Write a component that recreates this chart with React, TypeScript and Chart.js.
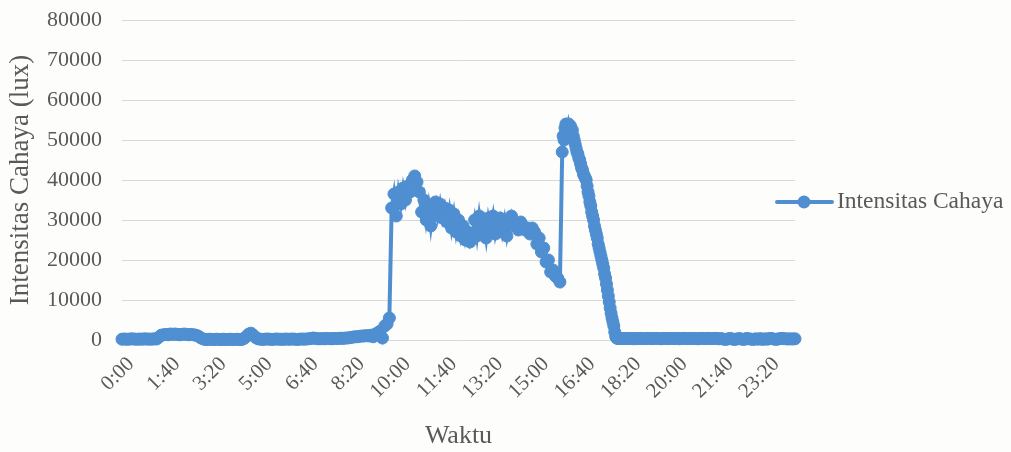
import React, { useEffect, useRef } from "react";
import { Chart, registerables } from "chart.js";

Chart.register(...registerables);

// ---- DATA ----
// each block: readings starting at `start` minutes after 0:00, taken every `step` minutes
const dinihari = [
  200, 250, 200, 200, 300, 250, 200, 200, 250, 200, 300, 200, 250, 200, 300, 250,
  700,
  1200, 1300, 1400, 1300, 1500, 1400, 1500, 1400, 1300, 1400, 1500, 1400, 1300, 1400, 1300, 1200, 1000,
  600, 300, 150,
  100, 200, 150, 100, 200, 150, 100, 200, 100, 150, 200, 100, 150, 200, 100, 150,
  400, 900, 1500, 1700, 1200, 600, 300,
]; // 0:00 – 4:55, every 5 min
const pagi = [
  200, 150, 200, 250, 200, 150, 200, 250, 200, 200, 150, 250, 200, 200, 250, 200, 150, 200, 250, 200, 250,
  300, 400, 500, 400, 300,
  300, 350, 300, 400, 350, 300, 400, 350, 400, 450, 400,
  500, 500, 600, 700, 800, 800, 900, 1000, 1000, 1100,
  1000, 1200, 800, 1500, 1800, 2200, 500, 3500, 4000, 5500,
]; // 5:00 – 9:40, every 5 min
const siang = [
  33000, 36500, 31000, 37000, 34000, 38000, 35000, 38500, 37000, 40000, 41000, 39500, 37000,
  32000, 35000, 30000, 33500, 28500, 33000, 34500, 31000, 34000, 30500, 33000, 29500,
  32500, 28000, 31500, 27000, 30000, 26000, 28500, 25000, 27000, 24500, 26500,
  30000, 26000, 31000, 27000, 29500, 25500, 30500, 28000, 31000, 26500, 29000, 30500,
  27000, 30000, 26000, 29000, 31000, 28500, 29000, 27500, 29500, 28500, 27500, 28000,
  26500, 28000, 27000, 24000, 25500, 22000, 23000, 19500, 20000, 17000, 17500, 16000, 15500, 14500,
]; // 9:45 – 15:50, every 5 min
const sore = [
  47000, 51000, 50000, 53000, 54000, 53500, 52500, 54000, 53000, 53500, 52000, 52500,
  51000, 50000, 49000, 48000, 47000, 46500, 45500, 45000, 44000, 43000, 42500, 41500,
  41000, 40500, 40000, 38500, 37000, 36000, 34500, 33500, 32000, 31000, 30000, 28500,
  27500, 26500, 25500, 24000, 23000, 22000, 21000, 20000, 19000, 18000, 16500, 15500,
  14000, 12500, 11000, 9500, 8000, 6700, 5500, 4500, 3500, 2000, 900, 500, 400, 400,
]; // 15:55 – 17:57, every 2 min
const malam = [
  400, 350, 400, 400, 350, 400, 300, 400, 350, 400, 400, 350, 400, 400, 350,
  400, 400, 350, 300, 400, 400, 350, 400, 400, 350, 400, 300, 400, 400, 350,
  400, 350, 400, 400, 300, 400, 400, 350, 400, 400, 350, 400, 400, 300, 350,
  200, 150, 300, 400, 200, 150, 300, 350, 200, 150, 400, 300, 200, 150, 300,
  200, 350, 150, 300, 200, 400, 350, 200, 150, 300, 400, 350, 300, 250, 300,
  250, 300,
]; // 18:00 – 0:20, every 5 min

const blocks = [
  { start: 0, step: 5, values: dinihari },
  { start: 300, step: 5, values: pagi },
  { start: 585, step: 5, values: siang },
  { start: 955, step: 2, values: sore },
  { start: 1080, step: 5, values: malam },
];
const points = blocks.flatMap((b) =>
  b.values.map((v, i) => ({ x: b.start + i * b.step, y: v }))
);
const lastMinute = points[points.length - 1].x;

const tickLabels = [
  "0:00", "1:40", "3:20", "5:00", "6:40", "8:20", "10:00", "11:40",
  "13:20", "15:00", "16:40", "18:20", "20:00", "21:40", "23:20",
];
const tickStep = 100; // minutes between labelled ticks
const yTicks = [0, 10000, 20000, 30000, 40000, 50000, 60000, 70000, 80000];

const seriesName = "Intensitas Cahaya";
const BLUE = "#4f8fd1";
const TEXT = "#595959";
const FONT = "'Liberation Serif', 'Times New Roman', serif";

const legendPlugin = {
  id: "sideLegend",
  afterDraw(chart: any) {
    const ctx = chart.ctx;
    const y = 202;
    ctx.save();
    ctx.strokeStyle = BLUE;
    ctx.lineWidth = 4;
    ctx.lineCap = "round";
    ctx.beginPath();
    ctx.moveTo(777, y);
    ctx.lineTo(832, y);
    ctx.stroke();
    ctx.fillStyle = BLUE;
    ctx.beginPath();
    ctx.arc(804, y, 6.5, 0, Math.PI * 2);
    ctx.fill();
    ctx.fillStyle = TEXT;
    ctx.font = `23.5px ${FONT}`;
    ctx.textBaseline = "middle";
    ctx.textAlign = "left";
    ctx.fillText(seriesName, 837, y);
    ctx.restore();
  },
};

const bgPlugin = {
  id: "bg",
  beforeDraw(chart: any) {
    const ctx = chart.ctx;
    ctx.save();
    ctx.fillStyle = "#fdfdfb";
    ctx.fillRect(0, 0, chart.width, chart.height);
    ctx.restore();
  },
};

export default function App() {
  const ref = useRef<HTMLCanvasElement | null>(null);
  useEffect(() => {
    if (!ref.current) return;
    const chart = new Chart(ref.current, {
      type: "line",
      data: {
        datasets: [
          {
            label: seriesName,
            data: points,
            borderColor: BLUE,
            backgroundColor: BLUE,
            borderWidth: 4,
            pointRadius: 6,
            pointBorderWidth: 1,
            pointBackgroundColor: BLUE,
            pointBorderColor: BLUE,
            tension: 0,
            clip: false,
          },
        ],
      },
      plugins: [bgPlugin, legendPlugin],
      options: {
        animation: false,
        responsive: false,
        parsing: false,
        layout: { padding: { left: 0, right: 216, top: 20, bottom: 0 } },
        plugins: { legend: { display: false }, tooltip: { enabled: false } },
        scales: {
          x: {
            type: "linear",
            min: 0,
            max: lastMinute,
            afterBuildTicks: (s: any) => {
              s.ticks = tickLabels.map((_, i) => ({ value: i * tickStep }));
            },
            grid: { display: false },
            border: { display: false },
            ticks: {
              autoSkip: false,
              minRotation: 45,
              maxRotation: 45,
              padding: 4,
              labelOffset: 9,
              color: TEXT,
              font: { family: FONT, size: 21 },
              callback: (_v: any, i: number) => tickLabels[i],
            },
            title: {
              display: true,
              text: "Waktu",
              color: TEXT,
              font: { family: FONT, size: 26 },
              padding: { top: 0, bottom: 0 },
            },
            afterFit: (s: any) => {
              s.height = 112;
              s.paddingLeft = 0;
              s.paddingRight = 0;
            },
          },
          y: {
            min: 0,
            max: 80000,
            afterBuildTicks: (s: any) => {
              s.ticks = yTicks.map((v) => ({ value: v }));
            },
            grid: { color: "#d9d9d9", lineWidth: 1, drawTicks: false },
            border: { display: false },
            ticks: {
              padding: 20,
              color: TEXT,
              font: { family: FONT, size: 22 },
              callback: (v: any) => String(v),
            },
            title: {
              display: true,
              text: "Intensitas Cahaya (lux)",
              color: TEXT,
              font: { family: FONT, size: 27 },
              padding: { top: 5, bottom: 0 },
            },
            afterFit: (s: any) => {
              s.width = 122;
              s.paddingTop = 0;
              s.paddingBottom = 0;
            },
          },
        },
      },
    });
    return () => chart.destroy();
  }, []);
  return (
    <div style={{ position: "absolute", left: 0, top: 0, width: 1011, height: 452 }}>
      <canvas ref={ref} width={1011} height={452} style={{ display: "block" }} />
    </div>
  );
}
